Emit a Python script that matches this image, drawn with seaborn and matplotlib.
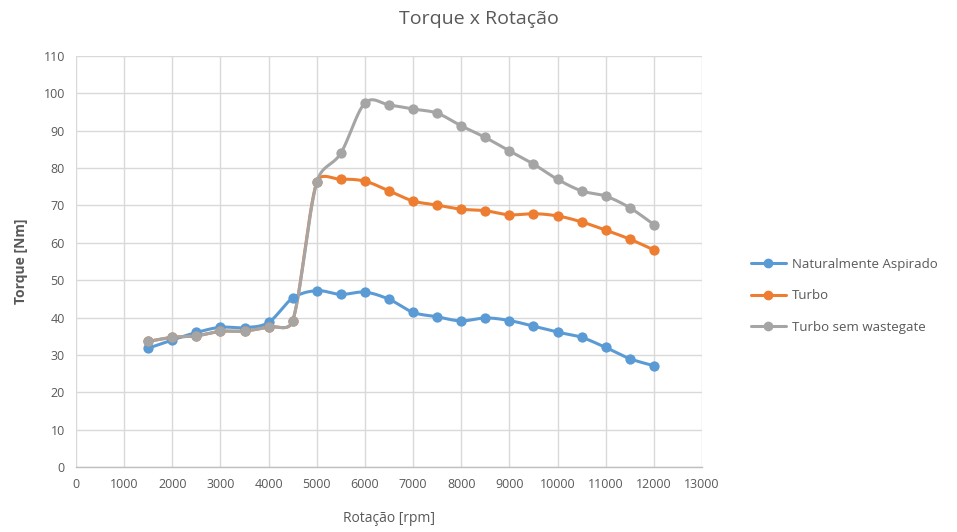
import numpy as np
import pandas as pd
import matplotlib
matplotlib.use("Agg")
import matplotlib.pyplot as plt
from matplotlib.lines import Line2D
import seaborn as sns

# Engine speed (rpm) and measured torque (Nm)
rpm = [1500, 2000, 2500, 3000, 3500, 4000, 4500, 5000, 5500, 6000, 6500, 7000,
       7500, 8000, 8500, 9000, 9500, 10000, 10500, 11000, 11500, 12000]
aspirado = [31.8, 34.0, 36.0, 37.4, 37.3, 38.7, 45.2, 47.2, 46.2, 46.8, 44.9, 41.4,
            40.2, 39.1, 39.9, 39.2, 37.7, 36.1, 34.7, 32.0, 29.0, 27.1]
turbo = [33.6, 34.7, 35.1, 36.3, 36.4, 37.5, 39.1, 76.2, 77.0, 76.5, 73.9, 71.2,
         70.1, 69.0, 68.6, 67.5, 67.8, 67.2, 65.6, 63.4, 61.0, 58.1]
sem_wastegate = [33.6, 34.7, 35.1, 36.3, 36.4, 37.5, 39.1, 76.2, 84.0, 97.4, 96.9, 95.8,
                 94.7, 91.3, 88.2, 84.6, 81.1, 77.0, 73.9, 72.5, 69.4, 64.9]

series_names = ["Naturalmente Aspirado", "Turbo", "Turbo sem wastegate"]
series_values = [aspirado, turbo, sem_wastegate]
series_colors = ["#5b9bd5", "#ed7d31", "#a5a5a5"]

x_ticks = list(range(0, 13001, 1000))
y_ticks = list(range(0, 111, 10))

# approximate screen scale of the axes (pixels per data unit), used so the
# smoothing tension is judged in display space
PX_PER_RPM = 626.0 / 13000
PX_PER_NM = 411.0 / 110


def smooth_curve(xs, ys, steps=40):
    """Spreadsheet-style smoothed line: cubic Bezier through every point,
    with the control-point tension limited on short segments."""
    xs = np.asarray(xs, float)
    ys = np.asarray(ys, float)
    n = len(xs)

    def dist(a, b):
        return np.hypot((xs[a] - xs[b]) * PX_PER_RPM, (ys[a] - ys[b]) * PX_PER_NM)

    out_x, out_y = [], []
    t = np.linspace(0, 1, steps, endpoint=False)
    for i in range(n - 1):
        i0, i1, i2, i3 = max(i - 1, 0), i, i + 1, min(i + 2, n - 1)
        p0 = np.array([xs[i0], ys[i0]])
        p1 = np.array([xs[i1], ys[i1]])
        p2 = np.array([xs[i2], ys[i2]])
        p3 = np.array([xs[i3], ys[i3]])
        d12 = dist(i1, i2)
        d02 = dist(i0, i2)
        d13 = dist(i1, i3)
        f0 = 1.0 / 6.0
        f3 = 1.0 / 6.0
        if d02 > 0 and d02 / 6.0 >= d12 / 2.0:
            f0 = d12 / (2.0 * d02)
        if d13 > 0 and d13 / 6.0 >= d12 / 2.0:
            f3 = d12 / (2.0 * d13)
        c1 = p1 + (p2 - p0) * f0
        c2 = p2 - (p3 - p1) * f3
        b = ((1 - t) ** 3)[:, None] * p1 + (3 * (1 - t) ** 2 * t)[:, None] * c1 \
            + (3 * (1 - t) * t ** 2)[:, None] * c2 + (t ** 3)[:, None] * p2
        out_x.extend(b[:, 0])
        out_y.extend(b[:, 1])
    out_x.append(xs[-1])
    out_y.append(ys[-1])
    return np.array(out_x), np.array(out_y)


sns.set_theme(style="white")
plt.rcParams["font.family"] = ["Open Sans", "DejaVu Sans"]

text_color = "#595959"
grid_color = "#d9d9d9"

fig = plt.figure(figsize=(9.57, 5.32), dpi=100)
ax = fig.add_axes([0.0794, 0.1222, 0.6541, 0.7725])

for name, vals, color in zip(series_names, series_values, series_colors):
    sx, sy = smooth_curve(rpm, vals)
    curve = pd.DataFrame({"rpm": sx, "torque": sy})
    sns.lineplot(data=curve, x="rpm", y="torque", ax=ax, color=color,
                 linewidth=2.2, sort=False, estimator=None, legend=False, zorder=3)
    pts = pd.DataFrame({"rpm": rpm, "torque": vals})
    sns.scatterplot(data=pts, x="rpm", y="torque", ax=ax, color=color, s=55,
                    edgecolor=color, linewidth=0, legend=False, zorder=4)

ax.set_xlim(0, 13000)
ax.set_ylim(0, 110)
ax.set_xticks(x_ticks)
ax.set_yticks(y_ticks)
ax.grid(True, color=grid_color, linewidth=1.0)
ax.set_axisbelow(True)
for side in ["top", "right", "left"]:
    ax.spines[side].set_visible(False)
ax.spines["bottom"].set_color("#bfbfbf")
ax.spines["bottom"].set_linewidth(1.0)
ax.tick_params(axis="both", length=0, labelsize=9, colors=text_color, pad=8)

ax.set_xlabel("Rotação [rpm]", fontsize=10, color=text_color, labelpad=14)
ax.set_ylabel("Torque [Nm]", fontsize=10, color=text_color, fontweight="bold", labelpad=11)
fig.text(0.5, 0.965, "Torque x Rotação", ha="center", va="center",
         fontsize=14, color=text_color)

handles = [Line2D([0], [0], color=c, linewidth=2.2, marker="o", markersize=6)
           for c in series_colors]
leg = fig.legend(handles, series_names, loc="center left",
                 bbox_to_anchor=(0.772, 0.444), frameon=False, fontsize=9.5,
                 handlelength=2.7, labelspacing=1.4, handletextpad=0.45)
for t in leg.get_texts():
    t.set_color(text_color)

fig.savefig("out.png", dpi=100, facecolor="white")
